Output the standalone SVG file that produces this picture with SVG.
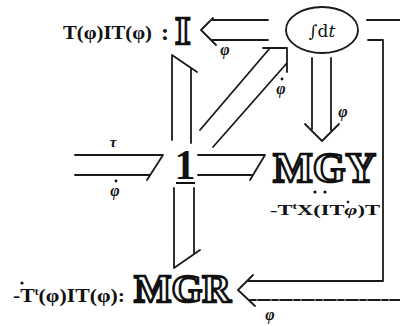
<svg xmlns="http://www.w3.org/2000/svg" width="400" height="326" viewBox="0 0 400 326">
<style>
.b{fill:none;stroke:#1a1a1a;stroke-width:1.8;stroke-linecap:round;stroke-linejoin:round}
.t{font-family:"Liberation Serif","DejaVu Serif",serif;font-weight:bold;fill:#111}
.ds{font-family:"Liberation Serif","DejaVu Serif",serif;font-weight:bold;fill:#fff;stroke:#111;stroke-width:2.5;stroke-linejoin:miter}
.g{font-family:"Liberation Serif","DejaVu Serif",serif;font-weight:bold;font-style:italic;fill:#111}
.dot{fill:#111}
</style>
<rect width="400" height="326" fill="#fff"/>
<g id="connectors">
  <path class="b" d="M268,20 H212 M268,40 H212 M213,18 L201,30 L216,45"/>
  <path class="b" d="M172,140 V55 L197,72 M191,143 V68"/>
  <path class="b" d="M75,155 H163 L147,180 M75,175 H150"/>
  <path class="b" d="M198,155 H265 L250,180 M198,175 H253"/>
  <path class="b" d="M174,188 V268 L200,250 M194,188 V254"/>
  <path class="b" d="M200,130 L270,48 M213,147 L287,63 M263,48 H287 V72"/>
  <path class="b" d="M312,58 V129 M331,58 V130 M305,124 L322,141 L339,124"/>
  <path class="b" d="M368,40 H383 V281 H248 M367,20 H402 M253,275 L238,290 L255,306"/>
  <path class="b" d="M402,300 H250" stroke-dasharray="12 2 6 2"/>
</g>
<g id="ellipse-int">
  <ellipse cx="322" cy="30" rx="36" ry="23" fill="none" stroke="#1a1a1a" stroke-width="1.8"/>
  <text x="322" y="37" text-anchor="middle" font-family="DejaVu Serif,serif" font-size="17" fill="#111">∫d<tspan font-style="italic">t</tspan></text>
</g>
<g id="node-I">
  <text class="t" x="63" y="39" font-size="18" textLength="89" lengthAdjust="spacingAndGlyphs">T(φ)IT(φ)</text>
  <text class="t" x="161" y="40" font-size="24">:</text>
  <text class="ds" x="175" y="44" font-size="40">I</text>
</g>
<g id="node-1">
  <text class="t" x="185" y="179" font-size="42" text-anchor="middle">1</text>
  <line x1="176" y1="183" x2="195" y2="183" stroke="#111" stroke-width="2"/>
</g>
<g id="node-MGY">
  <text class="ds" x="273" y="182" font-size="43" textLength="103" lengthAdjust="spacingAndGlyphs">MGY</text>
  <circle class="dot" cx="315" cy="192" r="1.6"/>
  <circle class="dot" cx="325" cy="192" r="1.6"/>
  <text class="t" x="270" y="215" font-size="15" textLength="110" lengthAdjust="spacingAndGlyphs">-T<tspan font-size="9" dy="-6">t</tspan><tspan dy="6">X(IT</tspan><tspan font-style="italic">φ</tspan>)T</text>
  <circle class="dot" cx="348" cy="202" r="1.3"/>
</g>
<g id="node-MGR">
  <text class="ds" x="134" y="302" font-size="39" textLength="97" lengthAdjust="spacingAndGlyphs">MGR</text>
  <text class="t" x="13" y="302" font-size="19" textLength="112" lengthAdjust="spacingAndGlyphs">-T<tspan font-size="10" dy="-7">t</tspan><tspan dy="7">(φ)IT(φ):</tspan></text>
  <circle class="dot" cx="22" cy="283" r="1.6"/>
</g>
<g id="labels">
  <text class="g" x="225" y="55" font-size="16" text-anchor="middle">φ</text>
  <text class="g" x="281" y="94" font-size="16" text-anchor="middle">φ</text>
  <circle class="dot" cx="282" cy="79" r="1.4"/>
  <text class="g" x="343" y="117" font-size="16" text-anchor="middle">φ</text>
  <text class="g" x="113" y="147" font-size="15" text-anchor="middle">τ</text>
  <text class="g" x="115" y="196" font-size="16" text-anchor="middle">φ</text>
  <circle class="dot" cx="116" cy="181" r="1.4"/>
  <text class="g" x="270" y="320" font-size="16" text-anchor="middle">φ</text>
</g>
</svg>
